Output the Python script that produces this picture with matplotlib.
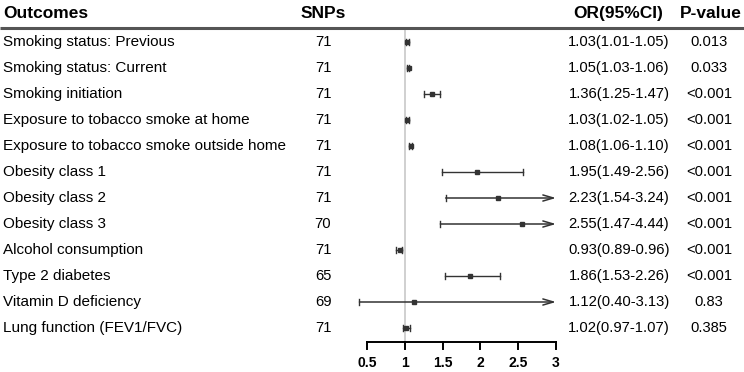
import matplotlib.pyplot as plt
import numpy as np

plt.rcParams['font.family'] = ['Liberation Sans', 'DejaVu Sans']

outcomes = ["Smoking status: Previous", "Smoking status: Current", "Smoking initiation",
            "Exposure to tobacco smoke at home", "Exposure to tobacco smoke outside home",
            "Obesity class 1", "Obesity class 2", "Obesity class 3", "Alcohol consumption",
            "Type 2 diabetes", "Vitamin D deficiency", "Lung function (FEV1/FVC)"]
snps = [71, 71, 71, 71, 71, 71, 71, 70, 71, 65, 69, 71]
or_val = [1.03, 1.05, 1.36, 1.03, 1.08, 1.95, 2.23, 2.55, 0.93, 1.86, 1.12, 1.02]
ci_low = [1.01, 1.03, 1.25, 1.02, 1.06, 1.49, 1.54, 1.47, 0.89, 1.53, 0.40, 0.97]
ci_high = [1.05, 1.06, 1.47, 1.05, 1.10, 2.56, 3.24, 4.44, 0.96, 2.26, 3.13, 1.07]
pvals = ["0.013", "0.033", "<0.001", "<0.001", "<0.001", "<0.001", "<0.001", "<0.001",
         "<0.001", "<0.001", "0.83", "0.385"]
xticks = [0.5, 1, 1.5, 2, 2.5, 3]
xmax = 3

W, H = 744, 372
fig = plt.figure(figsize=(W / 100, H / 100), dpi=100)
ax = fig.add_axes([0, 0, 1, 1])
ax.axis('off')

# pixel -> data mapping: x 0.5 at 367px, 3 at 556px; row i at 42 + 26*i px
sx = (556 - 367) / 2.5
ax.set_xlim(0.5 - 367 / sx, 0.5 + (W - 367) / sx)
ax.set_ylim((H - 42) / 26, -42 / 26)

def px(x):
    return 0.5 + (x - 367) / sx

def py(y):
    return (y - 42) / 26

col = '#333333'
fs = 11
fs_num = 10.6
fs_head = 12.5
n = len(outcomes)
rows = np.arange(n)

# header
hy = py(14)
ax.text(px(3), hy, "Outcomes", fontsize=fs_head, fontweight='bold', va='center', ha='left')
ax.text(px(323), hy, "SNPs", fontsize=fs_head, fontweight='bold', va='center', ha='center')
ax.text(px(618), hy, "OR(95%CI)", fontsize=fs_head, fontweight='bold', va='center', ha='center')
ax.text(px(711), hy, "P-value", fontsize=fs_head, fontweight='bold', va='center', ha='center')
ax.plot([px(0), px(W)], [py(28)] * 2, color='#555555', lw=2.2, solid_capstyle='butt')

# reference line
ax.plot([1, 1], [py(30), py(342)], color='#c8c8c8', lw=1.2, zorder=0)

cap = 0.13
for i in rows:
    ax.text(px(3), i, outcomes[i], fontsize=fs, va='center', ha='left')
    ax.text(px(323), i, str(snps[i]), fontsize=fs_num, va='center', ha='center')
    ax.text(px(619), i, f"{or_val[i]:.2f}({ci_low[i]:.2f}-{ci_high[i]:.2f})",
            fontsize=fs_num, va='center', ha='center')
    ax.text(px(709), i, pvals[i], fontsize=fs_num, va='center', ha='center')

    lo, hi = ci_low[i], ci_high[i]
    ax.plot([lo, lo], [i - cap, i + cap], color=col, lw=1)
    if hi > xmax:
        ax.annotate("", xy=(xmax, i), xytext=(lo, i),
                    arrowprops=dict(arrowstyle='->,head_length=0.75,head_width=0.22',
                                    color=col, lw=1.1, shrinkA=0, shrinkB=0))
    else:
        ax.plot([lo, hi], [i, i], color=col, lw=1)
        ax.plot([hi, hi], [i - cap, i + cap], color=col, lw=1)
    ax.plot(or_val[i], i, marker='s', ms=3.2, color=col, mec=col)

# x axis
ay = py(342)
ax.plot([xticks[0], xticks[-1]], [ay, ay], color='black', lw=1.4)
for t in xticks:
    ax.plot([t, t], [ay, py(349)], color='black', lw=1.4)
    ax.text(t, py(363), f"{t:g}", fontsize=10, fontweight='bold', ha='center', va='center')

fig.savefig("out.png", dpi=100)
